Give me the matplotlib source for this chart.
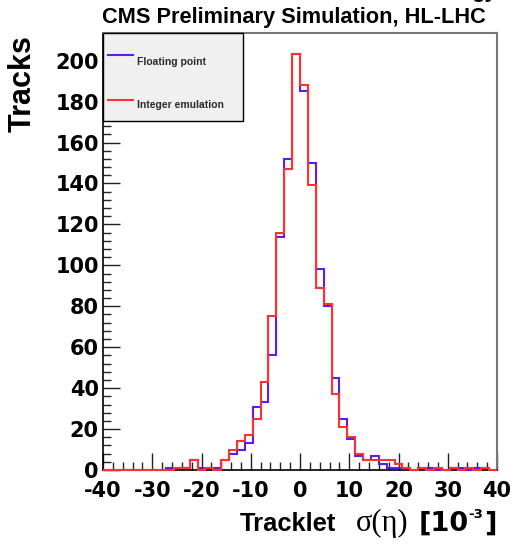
import numpy as np
import matplotlib
matplotlib.use("Agg")
import matplotlib.pyplot as plt
from matplotlib.patches import Rectangle
from matplotlib.lines import Line2D

# 50 bins of width 1.6 between -40 and 40 (units of 1e-3)
bin_lo, bin_hi, n_bins = -40.0, 40.0, 50

floating_point = [
    0, 0, 0, 0, 0, 0, 0, 0, 1, 1,
    1, 5, 1, 1, 1, 5, 8, 10, 13, 31,
    33, 56, 114, 152, 203, 185, 150, 98, 80, 45,
    25, 15, 7, 5, 7, 3, 1, 1, 1, 0,
    1, 1, 0, 0, 1, 1, 0, 1, 1, 0,
]
integer_emulation = [
    0, 0, 0, 0, 0, 0, 0, 0, 0, 1,
    1, 5, 0, 1, 0, 5, 10, 14, 17, 25,
    43, 75, 116, 147, 203, 188, 139, 89, 81, 37,
    21, 16, 8, 5, 5, 5, 5, 3, 1, 0,
    1, 0, 1, 0, 1, 0, 1, 0, 1, 0,
]
series_names = ["Floating point", "Integer emulation"]
series_colors = ["#5b1cf2", "#ff3030"]

x_ticks = [-40, -30, -20, -10, 0, 10, 20, 30, 40]
y_ticks = [0, 20, 40, 60, 80, 100, 120, 140, 160, 180, 200]

plt.rcParams["font.family"] = ["Liberation Sans", "DejaVu Sans"]

W, H = 513, 546
fig = plt.figure(figsize=(W / 100, H / 100), dpi=100)
ax_l, ax_r, ax_t, ax_b = 103, 497, 33, 470
ax = fig.add_axes([ax_l / W, 1 - ax_b / H, (ax_r - ax_l) / W, (ax_b - ax_t) / H])

edges = np.linspace(bin_lo, bin_hi, n_bins + 1)
for vals, col in zip([floating_point, integer_emulation], series_colors):
    ax.stairs(vals, edges, color=col, lw=1.5, baseline=0, clip_on=False, zorder=3)

ax.set_xlim(bin_lo, bin_hi)
ax.set_ylim(0, 213.5)
ax.set_xticks(x_ticks)
ax.set_xticklabels([str(t) for t in x_ticks])
ax.set_yticks(y_ticks)
ax.set_yticklabels([str(t) for t in y_ticks])
ax.set_xticks(np.arange(-40, 41, 2), minor=True)
ax.set_yticks(np.arange(0, 213, 4), minor=True)

ax.tick_params(axis="both", which="both", direction="in", top=False, right=False,
               color="#222222", width=1.0)
ax.tick_params(axis="both", which="major", length=12)
ax.tick_params(axis="both", which="minor", length=6)
ax.tick_params(axis="x", which="major", pad=8)
ax.tick_params(axis="y", which="major", pad=3)
for lab in ax.get_xticklabels() + ax.get_yticklabels():
    lab.set_fontweight("bold")
    lab.set_fontfamily("DejaVu Sans")
    lab.set_fontsize(15)

for side in ["left", "bottom"]:
    ax.spines[side].set_color("black")
    ax.spines[side].set_linewidth(1.2)
for side in ["top", "right"]:
    ax.spines[side].set_color("#777777")
    ax.spines[side].set_linewidth(1.5)

# legend box
lg_l, lg_r, lg_t, lg_b = 103, 243, 33, 121
fig.patches.append(Rectangle((lg_l / W, 1 - lg_b / H), (lg_r - lg_l) / W, (lg_b - lg_t) / H,
                             transform=fig.transFigure, facecolor="#f0f0f0",
                             edgecolor="black", lw=1.0, zorder=5))
for name, col, ly, ty in zip(series_names, series_colors, [55, 100], [62, 105]):
    fig.lines.append(Line2D([108 / W, 133 / W], [1 - ly / H, 1 - ly / H],
                            transform=fig.transFigure, color=col, lw=1.5, zorder=6))
    fig.text(137 / W, 1 - ty / H, name, fontsize=7.5, fontweight="bold",
             color="#2a2a2a", va="center", ha="left", zorder=7)

# title and the lower edge of the line above it
fig.text(293.5 / W, 1 - 17 / H, "CMS Preliminary Simulation, HL-LHC",
         fontsize=15.7, fontweight="bold", ha="center", va="center")
fig.text(497 / W, 1 + 3 / H, "gy", fontsize=16, fontweight="bold",
         ha="right", va="baseline")

fig.text(23 / W, 1 - 35 / H, "Tracks", rotation=90, fontsize=22,
         fontweight="bold", ha="center", va="top")

# x-axis title assembled from sans and serif pieces
base_y = 1 - 531 / H
fig.text(240 / W, base_y, "Tracklet", fontsize=18.4, fontweight="bold",
         ha="left", va="baseline")
fig.text(356 / W, base_y, "σ(η)", fontsize=22, family="Liberation Serif",
         ha="left", va="baseline")
fig.text(419 / W, base_y, "[10", fontsize=19.5, fontweight="bold",
         family="DejaVu Sans", ha="left", va="baseline")
fig.text(468 / W, 1 - 518 / H, "-3", fontsize=9.5, fontweight="bold",
         family="DejaVu Sans", ha="left", va="baseline")
fig.text(497 / W, base_y, "]", fontsize=19.5, fontweight="bold",
         family="DejaVu Sans", ha="right", va="baseline")

fig.savefig("out.png", dpi=100)
